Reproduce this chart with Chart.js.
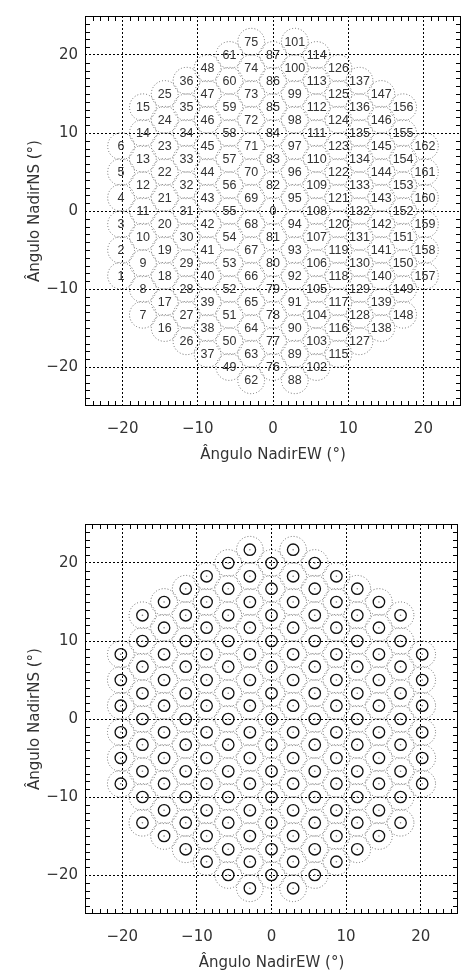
<!DOCTYPE html>
<html>
<head>
<meta charset="utf-8">
<script src="https://cdn.jsdelivr.net/npm/chart.js@4.4.0/dist/chart.umd.min.js"></script>
<style>
html, body { margin: 0; padding: 0; background: #fff; overflow: hidden; }
#quadro { position: relative; width: 462px; height: 977px; }
.painel { position: absolute; left: 0; width: 462px; height: 469px; }
#painelNumeros { top: 0; }
#painelCirculos { top: 508px; }
</style>
</head>
<body>
<div id="quadro">
	<div class="painel" id="painelNumeros"><canvas id="mapaNumeros" width="462" height="469"></canvas></div>
	<div class="painel" id="painelCirculos"><canvas id="mapaCirculos" width="462" height="469"></canvas></div>
</div>
<script>
// eixos (graus)
var eixoMin = -25;
var eixoMax = 25;
var marcasEixo = [-20, -10, 0, 10, 20];

// posicao EW de cada coluna de feixes
var colunaX = [-20.2, -17.3, -14.4, -11.5, -8.7, -5.8, -2.9, 0, 2.9, 5.8, 8.7, 11.5, 14.4, 17.3, 20.2];

// posicoes NS dos feixes, coluna a coluna (de baixo para cima)
var colunaY = [
	[-8.3, -5, -1.7, 1.7, 5, 8.3],
	[-13.3, -10, -6.7, -3.3, 0, 3.3, 6.7, 10, 13.3],
	[-15, -11.7, -8.3, -5, -1.7, 1.7, 5, 8.3, 11.7, 15],
	[-16.7, -13.3, -10, -6.7, -3.3, 0, 3.3, 6.7, 10, 13.3, 16.7],
	[-18.3, -15, -11.7, -8.3, -5, -1.7, 1.7, 5, 8.3, 11.7, 15, 18.3],
	[-20, -16.7, -13.3, -10, -6.7, -3.3, 0, 3.3, 6.7, 10, 13.3, 16.7, 20],
	[-21.7, -18.3, -15, -11.7, -8.3, -5, -1.7, 1.7, 5, 8.3, 11.7, 15, 18.3, 21.7],
	[-20, -16.7, -13.3, -10, -6.7, -3.3, 0, 3.3, 6.7, 10, 13.3, 16.7, 20],
	[-21.7, -18.3, -15, -11.7, -8.3, -5, -1.7, 1.7, 5, 8.3, 11.7, 15, 18.3, 21.7],
	[-20, -16.7, -13.3, -10, -6.7, -3.3, 0, 3.3, 6.7, 10, 13.3, 16.7, 20],
	[-18.3, -15, -11.7, -8.3, -5, -1.7, 1.7, 5, 8.3, 11.7, 15, 18.3],
	[-16.7, -13.3, -10, -6.7, -3.3, 0, 3.3, 6.7, 10, 13.3, 16.7],
	[-15, -11.7, -8.3, -5, -1.7, 1.7, 5, 8.3, 11.7, 15],
	[-13.3, -10, -6.7, -3.3, 0, 3.3, 6.7, 10, 13.3],
	[-8.3, -5, -1.7, 1.7, 5, 8.3]
];

// numero de cada feixe, na mesma ordem
var colunaRotulos = [
	[1, 2, 3, 4, 5, 6],
	[7, 8, 9, 10, 11, 12, 13, 14, 15],
	[16, 17, 18, 19, 20, 21, 22, 23, 24, 25],
	[26, 27, 28, 29, 30, 31, 32, 33, 34, 35, 36],
	[37, 38, 39, 40, 41, 42, 43, 44, 45, 46, 47, 48],
	[49, 50, 51, 52, 53, 54, 55, 56, 57, 58, 59, 60, 61],
	[62, 63, 64, 65, 66, 67, 68, 69, 70, 71, 72, 73, 74, 75],
	[76, 77, 78, 79, 80, 81, 0, 82, 83, 84, 85, 86, 87],
	[88, 89, 90, 91, 92, 93, 94, 95, 96, 97, 98, 99, 100, 101],
	[102, 103, 104, 105, 106, 107, 108, 109, 110, 111, 112, 113, 114],
	[115, 116, 117, 118, 119, 120, 121, 122, 123, 124, 125, 126],
	[127, 128, 129, 130, 131, 132, 133, 134, 135, 136, 137],
	[138, 139, 140, 141, 142, 143, 144, 145, 146, 147],
	[148, 149, 150, 151, 152, 153, 154, 155, 156],
	[157, 158, 159, 160, 161, 162]
];

var raioFeixe = 1.75;   // circulo pontilhado (graus)
var raioNucleo = 0.75;  // circulo cheio do painel de baixo (graus)

var fonteEixo = 'DejaVu Sans';
var corTexto = '#333';

function montaFeixes()
{
	var pontos = [];
	for (var c = 0; c < colunaX.length; c++)
	{
		for (var k = 0; k < colunaY[c].length; k++)
		{
			pontos.push({ x: colunaX[c], y: colunaY[c][k], rotulo: colunaRotulos[c][k] });
		}
	}
	return pontos;
}

// raio em pixels a partir de um raio em graus, pelas escalas do grafico
function raioEmPixels(raio)
{
	return function (contexto) {
		var sx = contexto.chart.scales.x;
		var sy = contexto.chart.scales.y;
		var rx = Math.abs(sx.getPixelForValue(raio) - sx.getPixelForValue(0));
		var ry = Math.abs(sy.getPixelForValue(raio) - sy.getPixelForValue(0));
		return (rx + ry) / 2;
	};
}

function formataMarca(valor)
{
	if (valor < 0)
		return '\u2212' + Math.abs(valor);
	return String(valor);
}

var pluginPontilhado = {
	id: 'pontilhado',
	beforeDatasetDraw: function (chart, args) {
		var ds = chart.data.datasets[args.index];
		chart.ctx.save();
		if (ds.tracejado)
			chart.ctx.setLineDash(ds.tracejado);
	},
	afterDatasetDraw: function (chart) {
		chart.ctx.restore();
	}
};

var pluginMoldura = {
	id: 'moldura',
	afterDatasetsDraw: function (chart) {
		var ctx = chart.ctx;
		var a = chart.chartArea;
		var sx = chart.scales.x;
		var sy = chart.scales.y;
		var tam = 5;

		ctx.save();
		ctx.strokeStyle = '#000';
		ctx.lineWidth = 1;
		ctx.beginPath();
		for (var v = eixoMin + 1; v < eixoMax; v++)
		{
			if (marcasEixo.indexOf(v) >= 0)
				continue;
			var px = Math.round(sx.getPixelForValue(v)) + 0.5;
			ctx.moveTo(px, a.top); ctx.lineTo(px, a.top + tam);
			ctx.moveTo(px, a.bottom); ctx.lineTo(px, a.bottom - tam);
			var py = Math.round(sy.getPixelForValue(v)) + 0.5;
			ctx.moveTo(a.left, py); ctx.lineTo(a.left + tam, py);
			ctx.moveTo(a.right, py); ctx.lineTo(a.right - tam, py);
		}
		ctx.stroke();
		ctx.strokeRect(a.left + 0.5, a.top + 0.5, a.right - a.left - 1, a.bottom - a.top - 1);
		ctx.restore();
	}
};

var pluginRotulos = {
	id: 'rotulos',
	afterDatasetsDraw: function (chart) {
		var ctx = chart.ctx;
		var ds = chart.data.datasets[0];
		var meta = chart.getDatasetMeta(0);
		ctx.save();
		ctx.font = '12.5px "Liberation Sans"';
		ctx.fillStyle = '#333';
		ctx.textAlign = 'center';
		ctx.textBaseline = 'middle';
		for (var i = 0; i < meta.data.length; i++)
		{
			var p = meta.data[i];
			ctx.fillText(String(ds.data[i].rotulo), p.x, p.y + 0.5);
		}
		ctx.restore();
	}
};

function escala(titulo, horizontal)
{
	return {
		type: 'linear',
		min: eixoMin,
		max: eixoMax,
		afterBuildTicks: function (s) {
			s.ticks = marcasEixo.map(function (v) { return { value: v }; });
		},
		ticks: {
			autoSkip: false,
			maxRotation: 0,
			color: corTexto,
			font: { family: fonteEixo, size: 15 },
			padding: horizontal ? 14 : 7,
			callback: formataMarca
		},
		grid: { color: '#000', lineWidth: 1, drawTicks: false },
		border: { display: false, dash: [2, 2] },
		title: {
			display: true,
			text: titulo,
			color: corTexto,
			font: { family: fonteEixo, size: 15 },
			padding: horizontal ? { top: 0, bottom: 5 } : { top: 26, bottom: 0 }
		},
		afterFit: function (s) {
			if (horizontal)
				s.height = 469 - 406;
			else
				s.width = 85;
		}
	};
}

function opcoesMapa()
{
	return {
		responsive: false,
		animation: false,
		events: [],
		layout: { padding: { top: 12, right: 1, left: 0, bottom: 0 } },
		plugins: { legend: { display: false }, tooltip: { enabled: false } },
		scales: {
			x: escala('\u00c2ngulo NadirEW (\u00b0)', true),
			y: escala('\u00c2ngulo NadirNS (\u00b0)', false)
		}
	};
}

var feixes = montaFeixes();

var circuloPontilhado = {
	data: feixes,
	pointStyle: 'circle',
	pointRadius: raioEmPixels(raioFeixe),
	pointBackgroundColor: 'rgba(0,0,0,0)',
	pointBorderColor: '#6a6a6a',
	pointBorderWidth: 1,
	tracejado: [1, 2]
};

new Chart(document.getElementById('mapaNumeros').getContext('2d'), {
	type: 'scatter',
	data: { datasets: [circuloPontilhado] },
	options: opcoesMapa(),
	plugins: [pluginPontilhado, pluginRotulos, pluginMoldura]
});

new Chart(document.getElementById('mapaCirculos').getContext('2d'), {
	type: 'scatter',
	data: {
		datasets: [
			Object.assign({}, circuloPontilhado, { data: feixes.slice() }),
			{
				data: feixes,
				pointStyle: 'circle',
				pointRadius: raioEmPixels(raioNucleo),
				pointBackgroundColor: 'rgba(0,0,0,0)',
				pointBorderColor: '#111',
				pointBorderWidth: 1.3
			},
			{
				data: feixes,
				pointStyle: 'circle',
				pointRadius: 0.8,
				pointBackgroundColor: '#777',
				pointBorderColor: '#777',
				pointBorderWidth: 0
			}
		]
	},
	options: opcoesMapa(),
	plugins: [pluginPontilhado, pluginMoldura]
});
</script>
</body>
</html>
